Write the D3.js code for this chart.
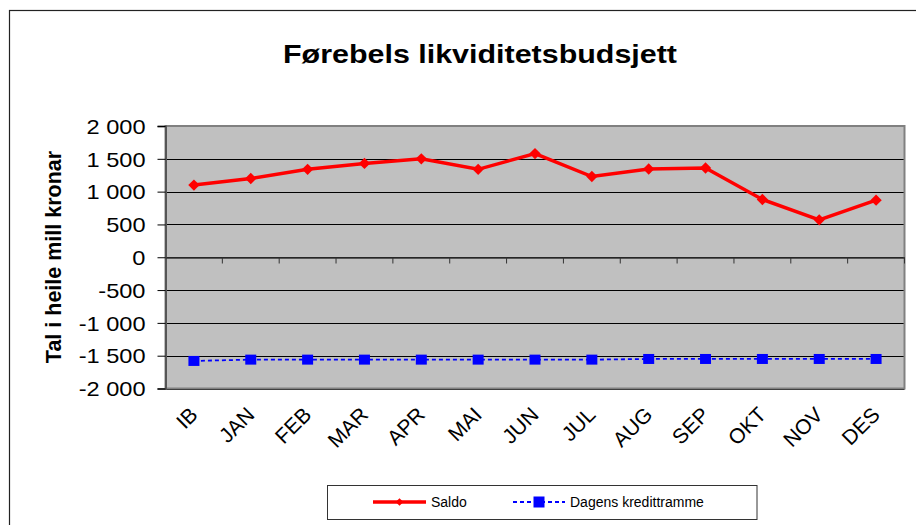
<!DOCTYPE html>
<html>
<head>
<meta charset="utf-8">
<script src="https://cdn.jsdelivr.net/npm/d3@7/dist/d3.min.js"></script>
<style>
  body { margin: 0; background: #fff; }
  text { font-family: "Liberation Sans", Arial, sans-serif; }
</style>
</head>
<body>
<div id="chart"></div>
<script>
// Data
const months = ["IB", "JAN", "FEB", "MAR", "APR", "MAI", "JUN", "JUL", "AUG", "SEP", "OKT", "NOV", "DES"];
const saldo = [1100, 1200, 1340, 1430, 1500, 1340, 1580, 1230, 1345, 1360, 880, 570, 870];
const kredittramme = [-1580, -1560, -1560, -1560, -1560, -1560, -1560, -1560, -1550, -1550, -1550, -1550, -1550];
const yTicks = [-2000, -1500, -1000, -500, 0, 500, 1000, 1500, 2000];

const width = 916;
const height = 525;

// Plot area
const plotLeft = 165.5, plotRight = 904.5, plotTop = 126, plotBottom = 388.5;

const svg = d3.select("#chart")
    .append("svg")
    .attr("width", width)
    .attr("height", height);

// Outer chart frame (runs off the right/bottom of the picture)
svg.append("rect")
    .attr("x", 9.5).attr("y", 10.5)
    .attr("width", 1000).attr("height", 1000)
    .attr("fill", "#fff")
    .attr("stroke", "#222")
    .attr("stroke-width", 1.2);

const x = d3.scaleBand().domain(months).range([plotLeft, plotRight]);
const y = d3.scaleLinear().domain([-2000, 2000]).range([plotBottom, plotTop]);
const cx = d => x(d) + x.bandwidth() / 2;

const no = d3.formatLocale({ decimal: ",", thousands: " ", grouping: [3], currency: ["", ""], minus: "-" });
const fmt = no.format(",d");

// Title
svg.append("text")
    .attr("x", 480).attr("y", 63)
    .attr("text-anchor", "middle")
    .attr("font-size", 25)
    .attr("font-weight", "bold")
    .attr("textLength", 394)
    .attr("lengthAdjust", "spacingAndGlyphs")
    .text("Førebels likviditetsbudsjett");

// Plot background
svg.append("rect")
    .attr("x", plotLeft).attr("y", plotTop)
    .attr("width", plotRight - plotLeft).attr("height", plotBottom - plotTop)
    .attr("fill", "#c0c0c0");

// Gridlines
svg.append("g")
    .selectAll("line")
    .data(yTicks)
    .enter()
    .append("line")
    .attr("x1", plotLeft).attr("x2", plotRight)
    .attr("y1", d => Math.round(y(d)) + 0.5)
    .attr("y2", d => Math.round(y(d)) + 0.5)
    .attr("stroke", "#000")
    .attr("stroke-width", 1);

// Plot border
svg.append("rect")
    .attr("x", plotLeft).attr("y", plotTop)
    .attr("width", plotRight - plotLeft).attr("height", plotBottom - plotTop)
    .attr("fill", "none")
    .attr("stroke", "#808080")
    .attr("stroke-width", 2);

// Y axis
const yAxis = svg.append("g")
    .attr("transform", `translate(${plotLeft},0)`)
    .call(d3.axisLeft(y).tickValues(yTicks).tickFormat(fmt).tickSize(8).tickPadding(0));
yAxis.select(".domain").attr("stroke", "#555").attr("stroke-width", 2);
yAxis.selectAll(".tick line").attr("stroke", "#000");
yAxis.selectAll(".tick text")
    .attr("font-size", 20)
    .attr("fill", "#000")
    .attr("x", -20 / 1.18)
    .attr("dy", "0.36em")
    .attr("transform", "scale(1.18,1)");

// X axis along zero
const xAxis = svg.append("g")
    .attr("transform", `translate(0,${Math.round(y(0)) + 0.5})`)
    .call(d3.axisBottom(x).tickSize(0).tickFormat(""));
xAxis.select(".domain").attr("stroke", "#333").attr("stroke-width", 1.5);
xAxis.selectAll(".tick").remove();
xAxis.selectAll(".bt")
    .data(months)
    .enter()
    .append("line")
    .attr("x1", d => x(d) + x.bandwidth())
    .attr("x2", d => x(d) + x.bandwidth())
    .attr("y1", 0).attr("y2", 6)
    .attr("stroke", "#333");

// Category labels
svg.append("g")
    .selectAll("text")
    .data(months)
    .enter()
    .append("text")
    .attr("transform", d => `translate(${cx(d) + 5},416) rotate(-45)`)
    .attr("text-anchor", "end")
    .attr("font-size", 21)
    .text(d => d);

// Y axis title
svg.append("text")
    .attr("transform", `translate(61,257) rotate(-90)`)
    .attr("text-anchor", "middle")
    .attr("font-size", 21.5)
    .attr("font-weight", "bold")
    .text("Tal i heile mill kronar");

// Series
const line = d3.line().x((d, i) => cx(months[i])).y(d => y(d));

svg.append("path")
    .datum(kredittramme)
    .attr("d", line)
    .attr("fill", "none")
    .attr("stroke", "#0000ff")
    .attr("stroke-width", 1.8)
    .attr("stroke-dasharray", "4,3");

svg.append("g")
    .selectAll("rect")
    .data(kredittramme)
    .enter()
    .append("rect")
    .attr("x", (d, i) => cx(months[i]) - 5.5)
    .attr("y", d => y(d) - 5)
    .attr("width", 11).attr("height", 10)
    .attr("fill", "#0000ff");

svg.append("path")
    .datum(saldo)
    .attr("d", line)
    .attr("fill", "none")
    .attr("stroke", "#ff0000")
    .attr("stroke-width", 3.5);

const diamond = d3.symbol().type(d3.symbolSquare).size(64);
svg.append("g")
    .selectAll("path")
    .data(saldo)
    .enter()
    .append("path")
    .attr("d", diamond)
    .attr("transform", (d, i) => `translate(${cx(months[i])},${y(d)}) rotate(45)`)
    .attr("fill", "#ff0000");

// Legend
const legend = svg.append("g");
legend.append("rect")
    .attr("x", 327.5).attr("y", 485.5)
    .attr("width", 429.5).attr("height", 34)
    .attr("fill", "#fff")
    .attr("stroke", "#333")
    .attr("stroke-width", 1);

legend.append("line")
    .attr("x1", 373).attr("x2", 426)
    .attr("y1", 502).attr("y2", 502)
    .attr("stroke", "#ff0000").attr("stroke-width", 3.5);
legend.append("path")
    .attr("d", d3.symbol().type(d3.symbolSquare).size(30))
    .attr("transform", "translate(399.5,502) rotate(45)")
    .attr("fill", "#ff0000");
legend.append("text")
    .attr("x", 431).attr("y", 507)
    .attr("font-size", 14)
    .text("Saldo");

legend.append("line")
    .attr("x1", 513).attr("x2", 565)
    .attr("y1", 502).attr("y2", 502)
    .attr("stroke", "#0000ff").attr("stroke-width", 1.8)
    .attr("stroke-dasharray", "4,3");
legend.append("rect")
    .attr("x", 533.5).attr("y", 496.5)
    .attr("width", 11).attr("height", 11)
    .attr("fill", "#0000ff");
legend.append("text")
    .attr("x", 570).attr("y", 507)
    .attr("font-size", 14)
    .text("Dagens kredittramme");
</script>
</body>
</html>
